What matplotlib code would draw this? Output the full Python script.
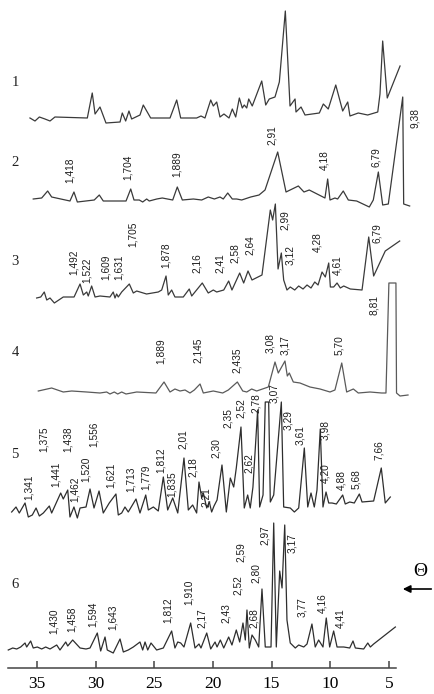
import matplotlib
matplotlib.use('Agg')
import matplotlib.pyplot as plt
import numpy as np

# --- diffraction patterns (2theta, intensity above own baseline) ---
tt1 = [35.60, 35.17, 34.80, 34.32, 33.89, 33.47, 30.71, 30.29, 30.05, 29.63, 29.12, 27.92, 27.73, 27.44, 27.16,
       26.93, 26.22, 25.94, 25.31, 23.66, 23.09, 22.75, 21.39, 21.02, 20.68, 20.19, 19.97, 19.68, 19.40, 19.06,
       18.63, 18.35, 18.06, 17.75, 17.50, 17.33, 17.12, 16.95, 16.65, 15.84, 15.50, 15.20, 14.71, 14.34, 13.83,
       13.43, 13.00, 12.92, 12.49, 12.15, 10.93, 10.59, 10.17, 9.53, 8.94, 8.51, 8.32, 7.61, 6.81, 5.95, 5.76,
       5.53, 5.14, 4.05]
ii1 = [2, -1, 3, 1, -1, 3, 2, 27, 6, 13, -3, -2, 7, -1, 9, 1, 5, 15, 2, 2, 20, 2, 2, 4, 2, 20, 14, 18, 3, 6,
       2, 11, 3, 22, 12, 15, 12, 21, 14, 39, 15, 21, 23, 38, 109, 14, 21, 8, 13, 5, 7, 16, 11, 35, 9, 18, 4, 7,
       5, 8, 26, 79, 22, 54]

tt2 = [35.32, 34.60, 34.09, 33.75, 32.19, 31.85, 31.56, 30.12, 29.69, 29.35, 27.41, 27.01, 26.73, 26.28, 25.99,
       25.65, 25.43, 24.79, 24.32, 23.43, 23.04, 22.61, 21.67, 20.96, 20.40, 19.88, 19.40, 19.12, 18.74, 18.35,
       17.98, 17.55, 16.78, 16.07, 15.56, 14.48, 13.77, 12.72, 12.24, 11.79, 10.45, 10.22, 10.02, 9.60, 9.37,
       8.89, 8.46, 7.75, 6.67, 6.33, 5.90, 5.53, 5.05, 3.82, 3.74, 3.23]
ii2 = [1, 2, 9, 3, -1, 8, -2, 0, 5, -1, -1, 11, 0, 0, -2, 1, -1, 1, 2, 0, 13, 0, 1, 0, 3, 1, 3, 1, 7, 1,
       1, 0, 3, 5, 10, 48, 8, 14, 8, 10, 2, 21, 0, 2, 1, 9, 0, -1, -7, 0, 28, -5, -4, 103, -4, -6]

tt3 = [35.03, 34.68, 34.38, 34.17, 33.89, 33.52, 32.76, 31.84, 31.33, 31.05, 30.76, 30.63, 30.34, 30.05, 29.63,
       28.78, 28.50, 28.35, 28.21, 28.07, 27.78, 27.13, 26.79, 26.50, 25.66, 24.66, 24.37, 24.00, 23.81, 23.52,
       23.24, 22.53, 22.02, 21.81, 20.91, 20.40, 19.97, 19.68, 19.08, 18.66, 18.38, 17.72, 17.38, 17.01, 16.67,
       15.82, 15.11, 14.91, 14.68, 14.45, 14.17, 13.97, 13.69, 13.41, 13.03, 12.69, 12.32, 11.98, 11.64, 11.32,
       11.04, 10.70, 10.42, 10.13, 9.99, 9.71, 9.42, 9.14, 8.85, 8.29, 7.29, 6.72, 6.30, 5.31, 4.08]
ii3 = [-1, 0, 5, -3, -1, -6, 0, 0, 13, 2, 5, 1, 11, 0, 1, 0, 5, -1, 3, 0, 5, 13, 4, 6, 3, 5, 7, 21, 2, 7,
       0, 0, 8, 1, 14, 4, 7, 5, 7, 16, 7, 24, 14, 26, 17, 22, 87, 77, 93, 28, 44, 17, 7, 10, 7, 11, 8, 12, 9, 15,
       12, 25, 20, 34, 10, 10, 14, 9, 11, 8, 7, 60, 21, 46, 56]

tt4 = [34.89, 33.75, 32.76, 32.04, 30.76, 29.63, 29.06, 28.78, 28.41, 28.12, 27.78, 27.41, 26.50, 24.86, 24.17,
       23.66, 23.24, 22.81, 22.38, 21.96, 21.59, 21.10, 20.82, 19.97, 19.17, 18.69, 17.92, 17.46, 17.12, 16.70,
       16.27, 15.28, 14.71, 14.43, 13.86, 13.66, 13.49, 13.15, 12.58, 11.73, 10.87, 10.02, 9.60, 9.02, 8.60,
       8.03, 7.61, 6.61, 5.62, 5.25, 5.00, 4.40, 4.35, 4.05, 3.37]
ii4 = [1, 4, 0, 1, 0, -1, 0, -2, 0, -2, 0, -2, 0, -1, 10, 0, 3, 1, 2, -1, 2, 8, -1, 1, -1, 2, 10, 1, 0, 3,
       1, 5, 30, 19, 31, 16, 19, 10, 9, 5, 3, 0, 2, 29, 0, 3, -1, 0, -1, -1, 109, 109, -1, -4, -3]

tt5 = [37.16, 36.79, 36.51, 36.02, 35.74, 35.40, 35.08, 34.80, 34.46, 33.95, 33.75, 32.98, 32.76, 32.38, 32.19,
       31.85, 31.56, 31.33, 30.82, 30.48, 30.14, 29.71, 29.35, 28.84, 28.27, 28.07, 27.78, 27.50, 27.22, 26.56,
       26.22, 25.73, 25.51, 25.08, 24.66, 24.23, 23.86, 23.43, 23.00, 22.47, 22.10, 21.73, 21.39, 21.19, 20.96,
       20.82, 20.53, 20.31, 20.11, 19.91, 19.65, 19.23, 18.86, 18.52, 18.23, 18.01, 17.61, 17.33, 17.04, 16.82,
       16.59, 16.19, 16.02, 15.73, 15.54, 15.25, 15.11, 14.82, 14.17, 13.97, 13.41, 13.06, 12.69, 12.21, 11.92,
       11.64, 11.36, 11.13, 10.85, 10.62, 10.36, 10.13, 9.85, 9.48, 8.94, 8.72, 8.34, 7.95, 7.52, 7.29,
       6.30, 5.65, 5.31, 4.88]
ii5 = [0, 5, -1, 9, -5, -3, 4, -4, -1, 6, -1, 19, 13, 22, -5, 5, -6, 4, 5, 23, 4, 21, -1, 9, 18, -3, -1, 5, 0, 13,
       -1, 17, 2, 5, 1, 35, 2, 14, -1, 54, 2, 7, -1, 30, 14, 19, 4, 10, 0, 6, 12, 47, 0, 34, 25, 44, 85, 4, 17, 4,
       25, 102, 5, 17, 110, 110, 10, 17, 110, 5, 4, 0, 4, 64, 5, 19, 5, 22, 83, 5, 20, 9, 9, 8, 17, 8, 10, 9, 18, 10,
       11, 44, 9, 15]

tt6 = [37.45, 37.07, 36.73, 36.39, 36.02, 35.88, 35.54, 35.32, 34.97, 34.60, 34.26, 33.89, 33.32, 33.04, 32.55,
       32.38, 31.96, 31.33, 30.82, 30.48, 29.86, 29.57, 29.20, 29.01, 28.50, 27.92, 27.64, 27.22, 26.79, 26.22,
       25.99, 25.79, 25.56, 25.28, 24.80, 24.23, 23.52, 23.24, 23.00, 22.75, 22.47, 21.90, 21.53, 21.19, 21.02,
       20.53, 20.19, 19.82, 19.65, 19.37, 19.08, 18.66, 18.38, 18.01, 17.72, 17.44, 17.24, 17.10, 16.90, 16.67,
       16.39, 16.10, 15.82, 15.54, 15.05, 14.82, 14.60, 14.31, 14.11, 13.88, 13.69, 13.41, 12.98, 12.69, 12.26,
       11.98, 11.56, 11.28, 10.99, 10.62, 10.34, 10.05, 9.71, 9.42, 8.85, 8.34, 8.06, 7.86, 7.15, 6.80,
       6.58, 6.30, 4.45]
ii6 = [-1, 1, 0, 2, 6, 2, 8, 1, 2, 0, 2, 0, 4, -1, 7, 3, 9, 1, 0, 1, 16, -2, 12, -1, -4, 10, -3, -1, 2, 7,
       -1, 7, -1, 6, -1, 1, 18, 1, 7, 6, 2, 26, 1, 5, 1, 16, 0, 7, 2, 9, 1, 12, 4, 19, 7, 26, 9, 39, 1, 14,
       9, 2, 60, 2, 2, 126, 2, 78, 61, 124, 29, 6, 1, 4, 2, 5, 25, 2, 9, 2, 31, 2, 18, 2, 2, 1, 8, 1, 0, 6,
       2, 5, 22]

# --- d-spacing labels: text, 2theta, height above baseline ---
lab1 = []
lab1_x = []
lab1_h = []
lab2 = ['1,418', '1,704', '1,889', '2,91', '4,18', '6,79', '9,38']
lab2_x = [32.19, 27.24, 23.06, 14.97, 10.47, 6.10, 2.78]
lab2_h = [17, 20, 23, 55, 30, 33, 72]
lab3 = ['1,492', '1,522', '1,609', '1,631', '1,705', '1,878', '2,16', '2,41', '2,58', '2,64',
        '2,99', '3,12', '4,28', '4,61', '6,79']
lab3_x = [31.85, 30.74, 29.12, 28.01, 26.82, 24.00, 21.36, 19.40, 18.10, 16.82, 13.83, 13.46, 11.13, 9.37, 6.02]
lab3_h = [22, 14, 17, 17, 50, 29, 24, 24, 34, 42, 67, 32, 45, 22, 54]
lab4 = ['1,889', '2,145', '2,435', '3,08', '3,17', '5,70', '8,81']
lab4_x = [24.43, 21.27, 17.95, 15.16, 13.83, 9.28, 6.27]
lab4_h = [28, 29, 19, 39, 37, 37, 77]
lab5 = ['1,341', '1,375', '1,441', '1,438', '1,462', '1,520', '1,556', '1,621', '1,713', '1,779',
        '1,812', '1,835', '2,01', '2,18', '2,21', '2,30', '2,35', '2,52', '2,62', '2,78',
        '3,07', '3,29', '3,61', '3,98', '4,20', '4,88', '5,68', '7,66']
lab5_x = [35.66, 34.46, 33.41, 32.38, 31.76, 30.85, 30.12, 28.69, 26.99, 25.73,
          24.43, 23.52, 22.58, 21.68, 20.62, 19.74, 18.74, 17.61, 16.95, 16.30,
          14.77, 13.63, 12.55, 10.42, 10.42, 9.06, 7.78, 5.87]
lab5_h = [12, 60, 25, 60, 10, 30, 65, 24, 20, 22, 39, 15, 63, 35, 5, 54, 84, 94, 39, 99,
          109, 82, 67, 72, 29, 22, 23, 52]
lab6 = ['1,430', '1,458', '1,594', '1,643', '1,812', '1,910', '2,17', '2,43', '2,52', '2,59',
        '2,68', '2,80', '2,97', '3,17', '3,77', '4,16', '4,41']
lab6_x = [33.53, 32.04, 30.26, 28.50, 23.81, 22.02, 20.96, 18.86, 17.89, 17.61,
          16.53, 16.30, 15.54, 13.26, 12.41, 10.70, 9.14]
lab6_h = [15, 17, 22, 19, 26, 44, 21, 26, 54, 87, 21, 66, 104, 96, 32, 36, 21]

names = ['1', '2', '3', '4', '5', '6']
xticks = [35, 30, 25, 20, 15, 10, 5]

# layout (not data)
base = [574, 494, 397, 302, 182, 45]
name_y = [612, 532, 433, 342, 239, 109]
colors = ['#3a3a3a', '#3a3a3a', '#3a3a3a', '#5a5a5a', '#2e2e2e', '#2e2e2e']

fig = plt.figure(figsize=(4.34, 6.94), dpi=100)
ax = fig.add_axes([0, 0, 1, 1])
ax.set_xlim(38.154, 1.155)
ax.set_ylim(0, 694)

series = [(tt1, ii1, lab1, lab1_x, lab1_h), (tt2, ii2, lab2, lab2_x, lab2_h),
          (tt3, ii3, lab3, lab3_x, lab3_h), (tt4, ii4, lab4, lab4_x, lab4_h),
          (tt5, ii5, lab5, lab5_x, lab5_h), (tt6, ii6, lab6, lab6_x, lab6_h)]

for k, (tt, ii, lab, lx, lh) in enumerate(series):
    ax.plot(tt, np.array(ii) + base[k], color=colors[k], lw=0.9)
    for s, x, h in zip(lab, lx, lh):
        ax.text(x, base[k] + h, s, rotation=90, ha='center', va='bottom',
                fontsize=7.3, family='Liberation Sans', color='#1e1e1e')
    ax.text(36.87, name_y[k], names[k], ha='center', va='center',
            fontsize=10.5, family='Liberation Serif', color='#222222')

for s in ['left', 'right', 'top']:
    ax.spines[s].set_visible(False)
ax.spines['bottom'].set_position(('data', 26))
ax.spines['bottom'].set_bounds(4.4, 37.5)
ax.spines['bottom'].set_color('#444444')
ax.spines['bottom'].set_linewidth(1.1)
ax.set_yticks([])
ax.set_xticks(xticks)
ax.set_xticklabels([str(t) for t in xticks], family='Liberation Serif', fontsize=12.5)
ax.tick_params(axis='x', direction='in', length=5, width=1.1, color='#444444', pad=6)

ax.text(2.35, 122, 'Θ', ha='center', va='center', fontsize=14, family='Liberation Serif')
ax.annotate('', xy=(4.05, 105), xytext=(1.15, 105),
            arrowprops=dict(arrowstyle='-|>', color='black', lw=1.2, mutation_scale=11))

fig.savefig('out.png', dpi=100)
